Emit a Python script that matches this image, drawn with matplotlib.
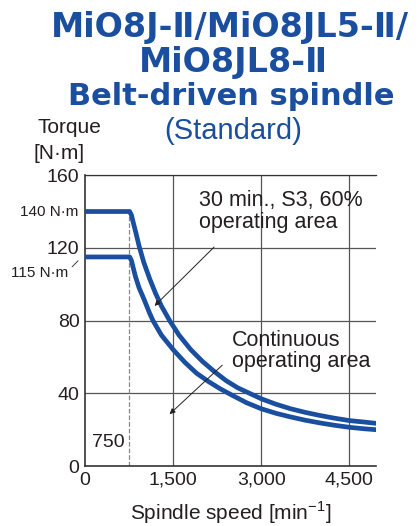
import matplotlib
matplotlib.use("Agg")
import matplotlib.pyplot as plt

plt.rcParams['font.family'] = ['Liberation Sans', 'DejaVu Sans']

# Torque curves (speed in min-1, torque in N·m)
speed_s3 = [0, 760, 790, 820, 860, 920, 1000, 1100, 1200, 1300, 1440, 1600, 1800, 2000,
            2200, 2400, 2600, 2800, 3000, 3250, 3500, 3750, 4000, 4250, 4500, 4750, 4950]
torque_s3 = [140, 140, 138, 134, 129, 121, 112, 103, 95, 88, 80, 72, 64, 57.5,
             52, 47, 43, 40, 37, 34, 31.5, 29.5, 27.8, 26.3, 25, 24.2, 23.5]
speed_cont = [0, 760, 790, 820, 860, 920, 1000, 1100, 1156, 1300, 1500, 1700, 1900, 2100,
              2300, 2500, 2750, 3000, 3250, 3500, 3750, 4000, 4250, 4500, 4750, 4950]
torque_cont = [115, 115, 113, 109, 104, 98, 92, 84, 80, 72, 64, 57, 51, 46.5,
               42.5, 39, 34.8, 31.5, 29, 27, 25.2, 23.7, 22.4, 21.3, 20.5, 20]

x_ticks = [0, 1500, 3000, 4500]
x_labels = ['0', '1,500', '3,000', '4,500']
y_ticks = [0, 40, 80, 120, 160]
corner_speed = 750

title_lines = ['MiO8J-Ⅱ/MiO8JL5-Ⅱ/', 'MiO8JL8-Ⅱ', 'Belt-driven spindle']
blue = '#1a4f9f'
ink = '#231f20'

fig = plt.figure(figsize=(4.19, 5.26), dpi=100)
ax = fig.add_axes([0.203, 0.114, 0.694, 0.553])

# grid
for xv in x_ticks[1:]:
    ax.axvline(xv, color='#555555', lw=0.9, zorder=1)
for yv in y_ticks[1:]:
    ax.axhline(yv, color='#555555', lw=0.9, zorder=1)
ax.plot([corner_speed, corner_speed], [0, 140], ls='--', color='#888888', lw=0.9, zorder=1)

ax.plot(speed_s3, torque_s3, color=blue, lw=3.4, solid_joinstyle='round', zorder=3)
ax.plot(speed_cont, torque_cont, color=blue, lw=3.4, solid_joinstyle='round', zorder=3)

ax.set_xlim(0, 4950)
ax.set_ylim(0, 160)
ax.set_xticks(x_ticks)
ax.set_xticklabels(x_labels)
ax.set_yticks(y_ticks)
ax.tick_params(length=0, labelsize=14, colors=ink, pad=4)
ax.spines['right'].set_visible(False)
for s in ['left', 'bottom', 'top']:
    ax.spines[s].set_color('#333333')
    ax.spines[s].set_linewidth(1.2)
ax.spines['top'].set_linewidth(0.9)

ax.set_xlabel('Spindle speed [min$^{\\mathregular{-1}}$]', fontsize=15, color=ink, labelpad=8)

# side labels
ax.text(-118, 140, '140 N·m', ha='right', va='center', fontsize=11, color=ink)
ax.text(-287, 106.3, '115 N·m', ha='right', va='center', fontsize=11, color=ink)
ax.annotate('', xy=(-85, 114), xytext=(-254, 108.5),
            arrowprops=dict(arrowstyle='-', color=ink, lw=0.6), annotation_clip=False)
ax.text(110, 13, '750', ha='left', va='center', fontsize=14, color=ink)

ax.text(1945, 152, '30 min., S3, 60%\noperating area', ha='left', va='top',
        fontsize=15.5, color=ink, linespacing=1.05)
ax.annotate('', xy=(1150, 87), xytext=(2230, 121.5),
            arrowprops=dict(arrowstyle='-|>', color=ink, lw=0.7, mutation_scale=8))
ax.text(2500, 75, 'Continuous\noperating area', ha='left', va='top',
        fontsize=15.5, color=ink, linespacing=1.05)
ax.annotate('', xy=(1404, 27.5), xytext=(2370, 56.5),
            arrowprops=dict(arrowstyle='-|>', color=ink, lw=0.7, mutation_scale=8))

# titles
title_font = ['DejaVu Sans']
fig.text(0.549, 0.948, title_lines[0], ha='center', va='center', fontsize=24,
         fontweight='bold', color=blue, family=title_font)
fig.text(0.556, 0.882, title_lines[1], ha='center', va='center', fontsize=24,
         fontweight='bold', color=blue, family=title_font)
fig.text(0.553, 0.816, title_lines[2], ha='center', va='center', fontsize=22,
         fontweight='bold', color=blue, family=title_font)
fig.text(0.556, 0.751, '(Standard)', ha='center', va='center', fontsize=21, color=blue)
fig.text(0.165, 0.757, 'Torque', ha='center', va='center', fontsize=15, color=ink)
fig.text(0.141, 0.709, '[N·m]', ha='center', va='center', fontsize=15, color=ink)

fig.savefig('out.png', dpi=100)
